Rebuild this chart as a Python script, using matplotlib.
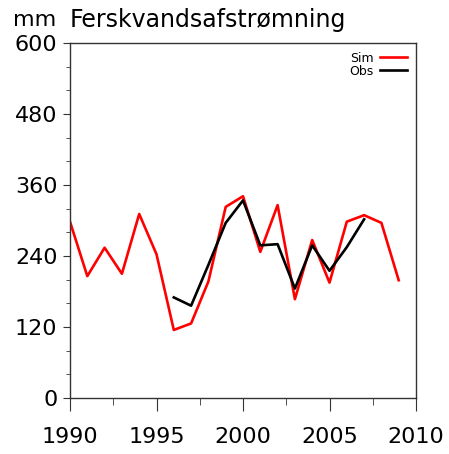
import numpy as np
import matplotlib.pyplot as plt
from matplotlib.ticker import MultipleLocator

# annual freshwater runoff, mm
sim_years = np.arange(1990, 2010)
sim_mm = [298, 206, 254, 210, 311, 243, 115, 126, 197, 323,
          341, 247, 326, 167, 267, 195, 298, 309, 296, 199]
obs_years = np.arange(1996, 2008)
obs_mm = [170, 156, 225, 296, 334, 258, 260, 185, 258, 215, 255, 302]

fig = plt.figure(figsize=(4.49, 4.54), dpi=100)
ax = fig.add_axes([70 / 449, 56 / 454, 346 / 449, 355 / 454])

ax.plot(sim_years, sim_mm, color='#ff0000', lw=1.9, label='Sim')
ax.plot(obs_years, obs_mm, color='black', lw=1.9, label='Obs')

ax.set_xlim(1990, 2010)
ax.set_ylim(0, 600)
ax.xaxis.set_major_locator(MultipleLocator(5))
ax.xaxis.set_minor_locator(MultipleLocator(2.5))
ax.yaxis.set_major_locator(MultipleLocator(120))
ax.yaxis.set_minor_locator(MultipleLocator(40))
ax.tick_params(which='major', direction='out', labelsize=16, color='#333333')
ax.tick_params(axis='x', which='major', length=9, pad=12)
ax.tick_params(axis='x', which='minor', length=5, color='#333333')
ax.tick_params(axis='y', which='major', length=5, pad=4)
ax.tick_params(axis='y', which='minor', length=3, color='#333333')
for s in ax.spines.values():
    s.set_color('#333333')
    s.set_linewidth(1.0)

leg = ax.legend(loc='upper right', frameon=False, markerfirst=False,
                fontsize=9, handlelength=2.2, labelspacing=0.0,
                borderaxespad=0.3, handletextpad=0.5)

fig.text(13 / 449, 1 - 20 / 454, 'mm', fontsize=16, va='center')
fig.text(70 / 449, 1 - 20 / 454, 'Ferskvandsafstrømning', fontsize=17, va='center')

fig.savefig('out.png', dpi=100)
